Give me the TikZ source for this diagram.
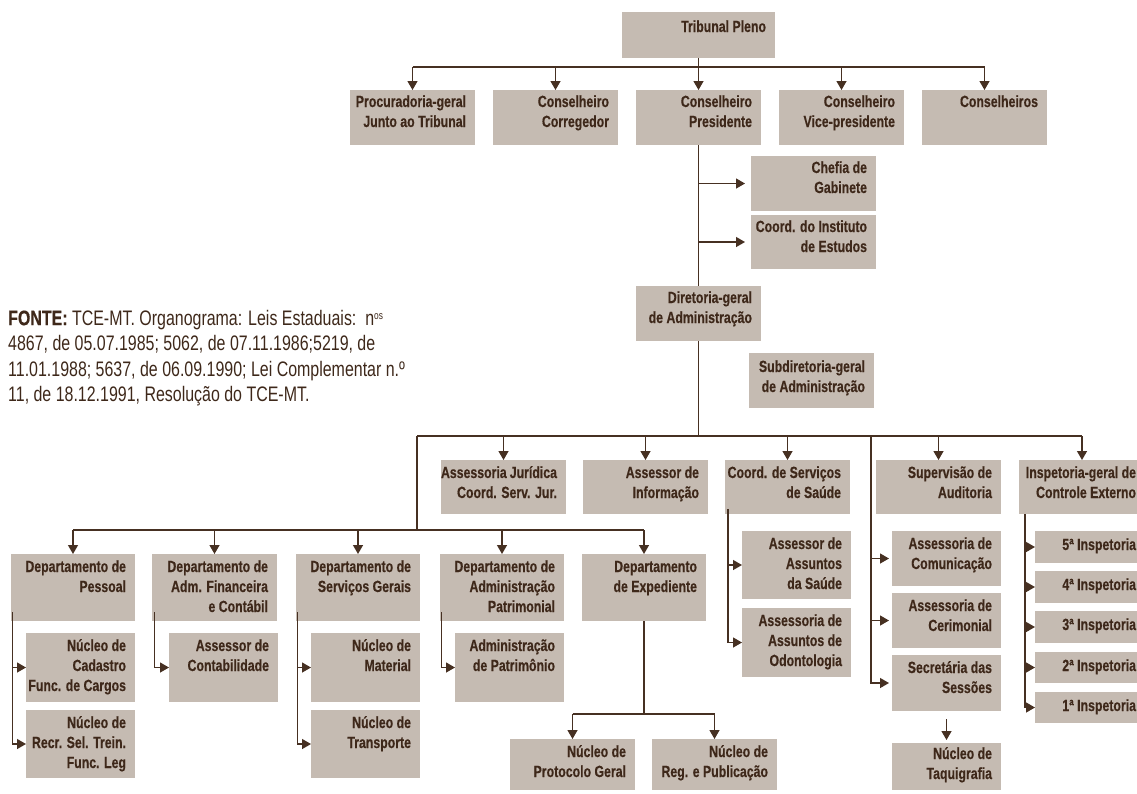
\documentclass[tikz,border=0pt]{standalone}
\usepackage{fontspec}
\setmainfont{Liberation Sans}[FakeStretch=0.76, BoldFeatures={FakeBold=0.4}]
\usetikzlibrary{arrows.meta,calc}
\definecolor{boxfill}{RGB}{197,187,178}
\definecolor{ink}{RGB}{62,40,26}
\definecolor{linec}{RGB}{70,48,34}
\tikzset{
  obox/.style={fill=boxfill, text=ink, inner sep=0pt, outer sep=0pt, font=\fontsize{16.2}{20}\selectfont\bfseries},
  ln/.style={draw=linec, line width=1.3pt},
  arr/.style={ln, -{Triangle[length=9pt,width=10pt]}}
}
% #1 first baseline offset, #2 name, #3 x1, #4 y1, #5 x2, #6 y2, #7 text
\newcommand{\orgbox}[7][18]{%
  \node[obox, anchor=north west, minimum width={(#5-#3)*1pt}, minimum height={(#6-#4)*1pt}] (#2) at (#3,#4)
  {\begin{minipage}[t][\dimexpr #6pt-#4pt\relax][t]{\dimexpr #5pt-#3pt\relax}\raggedleft\rightskip=9pt\relax\rule{0pt}{#1pt}#7\end{minipage}};}
\begin{document}
\begin{tikzpicture}[x=1pt,y=-1pt]
\useasboundingbox (0,0) rectangle (1137,793);

% top level
\orgbox[20]{T}{622}{12}{775}{58}{Tribunal Pleno}
\orgbox[17]{Proc}{350}{90}{475}{145}{Procuradoria-geral\\Junto ao Tribunal}
\orgbox[17]{Corr}{493}{90}{618}{145}{Conselheiro\\Corregedor}
\orgbox[17]{Pres}{636}{90}{761}{145}{Conselheiro\\Presidente}
\orgbox[17]{Vice}{779}{90}{904}{145}{Conselheiro\\Vice-presidente}
\orgbox[17]{Cons}{922}{90}{1047}{145}{Conselheiros}
\orgbox[17]{Chefia}{751}{156}{876}{211}{Chefia de\\Gabinete}
\orgbox[17]{Inst}{751}{215}{876}{269}{Coord. do Instituto\\de Estudos}
\orgbox[17]{Dir}{636}{286}{761}{341}{Diretoria-geral\\de Administração}
\orgbox[19]{Sub}{749}{353}{874}{408}{Subdiretoria-geral\\de Administração}

% second bar row
\orgbox{AssJur}{441}{460}{566}{514}{Assessoria Jurídica\\Coord. Serv. Jur.}
\orgbox{AssInf}{583}{460}{708}{514}{Assessor de\\Informação}
\orgbox{CSaude}{725}{460}{850}{514}{Coord. de Serviços\\de Saúde}
\orgbox{Sup}{876}{460}{1001}{514}{Supervisão de\\Auditoria}
\orgbox{Insp}{1019}{460}{1145}{514}{Inspetoria-geral de\\Controle Externo}

% departments
\orgbox{DP}{11}{554}{135}{621}{Departamento de\\Pessoal}
\orgbox{DAF}{152}{554}{277}{621}{Departamento de\\Adm. Financeira\\e Contábil}
\orgbox{DSG}{296}{554}{420}{621}{Departamento de\\Serviços Gerais}
\orgbox{DAP}{440}{554}{564}{621}{Departamento de\\Administração\\Patrimonial}
\orgbox{DE}{582}{554}{706}{621}{Departamento\\de Expediente}

\orgbox{NCad}{26}{633}{135}{702}{Núcleo de\\Cadastro\\Func. de Cargos}
\orgbox{NRecr}{26}{710}{135}{778}{Núcleo de\\Recr. Sel. Trein.\\Func. Leg}
\orgbox{AsCont}{169}{633}{278}{702}{Assessor de\\Contabilidade}
\orgbox{NMat}{311}{633}{420}{702}{Núcleo de\\Material}
\orgbox{NTrans}{311}{710}{420}{778}{Núcleo de\\Transporte}
\orgbox{AdmPat}{455}{633}{564}{702}{Administração\\de Patrimônio}
\orgbox{NProt}{510}{739}{635}{790}{Núcleo de\\Protocolo Geral}
\orgbox{NReg}{652}{739}{777}{790}{Núcleo de\\Reg. e Publicação}

\orgbox{AsSaude}{742}{531}{851}{599}{Assessor de\\Assuntos\\da Saúde}
\orgbox{AsOdon}{742}{608}{851}{677}{Assessoria de\\Assuntos de\\Odontologia}

\orgbox{AsCom}{892}{531}{1001}{586}{Assessoria de\\Comunicação}
\orgbox{AsCer}{892}{593}{1001}{648}{Assessoria de\\Cerimonial}
\orgbox{Sec}{892}{655}{1001}{711}{Secretária das\\Sessões}
\orgbox[16]{Taq}{892}{743}{1001}{790}{Núcleo de\\Taquigrafia}

\orgbox[19]{I5}{1035}{531}{1145}{563}{5ª Inspetoria}
\orgbox[19]{I4}{1035}{571}{1145}{603}{4ª Inspetoria}
\orgbox[19]{I3}{1035}{611}{1145}{643}{3ª Inspetoria}
\orgbox[19]{I2}{1035}{652}{1145}{683}{2ª Inspetoria}
\orgbox[19]{I1}{1035}{692}{1145}{723}{1ª Inspetoria}

% source text
\node[anchor=north west, inner sep=0pt, text=ink, font=\fontsize{21}{25.5}\selectfont] (fonte) at (8,307)
{\begin{minipage}[t]{440pt}\raggedright\rule{0pt}{18pt}\textbf{FONTE:} TCE-MT. Organograma: Leis Estaduais:\ \ n\raisebox{6pt}{\fontsize{11}{11}\selectfont os}\\
4867, de 05.07.1985; 5062, de 07.11.1986;5219, de\\
11.01.1988; 5637, de 06.09.1990; Lei Complementar n.º\\
11, de 18.12.1991, Resolução do TCE-MT.\end{minipage}};

% ---- connectors ----
\coordinate (bar1) at (0,67);
\draw[ln] (Proc.north |- bar1) -- (Cons.north |- bar1);
\draw[arr] (T.south) -- (Pres.north);
\foreach \n in {Proc,Corr,Vice,Cons} \draw[arr] (\n.north |- bar1) -- (\n.north);

\draw[ln] (Pres.south) -- (Dir.north);
\draw[arr, shorten >=6pt] (Pres.south |- Chefia.west) -- (Chefia.west);
\draw[arr, shorten >=6pt] (Pres.south |- Inst.west) -- (Inst.west);

\coordinate (j1) at (417,436);
\coordinate (j2) at (417,530);
\coordinate (j3) at (871,436);
\draw[ln] (Dir.south) -- (Dir.south |- j1);
\draw[ln] (j1) -- (Insp.north |- j1);
\foreach \n in {AssJur,AssInf,CSaude,Sup,Insp} \draw[arr] (\n.north |- j1) -- (\n.north);
\draw[ln] (j1) -- (j2);
\draw[ln] (DP.north |- j2) -- (DE.north |- j2);
\foreach \n in {DP,DAF,DSG,DAP,DE} \draw[arr] (\n.north |- j2) -- (\n.north);

% department sub-branches
\draw[arr] ([xshift=1.5pt,yshift=9pt]DP.south west) |- (NCad.west);
\draw[arr] ([xshift=1.5pt,yshift=9pt]DP.south west) |- (NRecr.west);
\draw[arr] ([xshift=2.5pt,yshift=9pt]DAF.south west) |- (AsCont.west);
\draw[arr] ([xshift=1.5pt,yshift=9pt]DSG.south west) |- (NMat.west);
\draw[arr] ([xshift=1.5pt,yshift=9pt]DSG.south west) |- (NTrans.west);
\draw[arr] ([xshift=1.5pt,yshift=9pt]DAP.south west) |- (AdmPat.west);

\coordinate (bar4) at (0,714);
\draw[ln] (DE.south) -- (DE.south |- bar4);
\draw[ln] (NProt.north |- bar4) -- (NReg.north |- bar4);
\draw[arr] (NProt.north |- bar4) -- (NProt.north);
\draw[arr] (NReg.north |- bar4) -- (NReg.north);

\draw[arr] ([xshift=3pt,yshift=5pt]CSaude.south west) |- (AsSaude.west);
\draw[arr] ([xshift=3pt,yshift=5pt]CSaude.south west) |- (AsOdon.west);

\draw[arr, shorten >=3pt] (j3) |- (AsCom.west);
\draw[arr, shorten >=3pt] (j3) |- (AsCer.west);
\draw[arr, shorten >=3pt] (j3) |- (Sec.west);
\draw[arr, shorten <=8pt, shorten >=3pt] (Sec.south) -- (Taq.north);

\foreach \n in {I5,I4,I3,I2,I1} \draw[arr] ([xshift=6pt]Insp.south west) |- (\n.west);
\end{tikzpicture}
\end{document}
